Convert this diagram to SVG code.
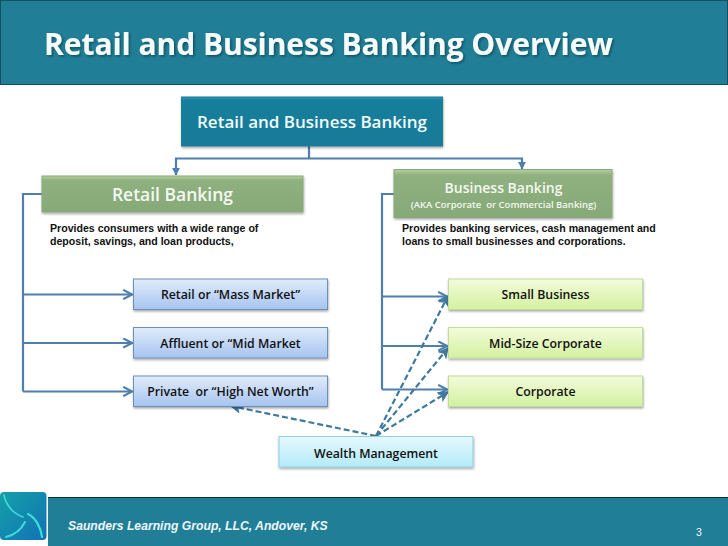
<svg xmlns="http://www.w3.org/2000/svg" width="728" height="546" viewBox="0 0 728 546">
<style>
.n{font-family:"Open Sans","Noto Sans",sans-serif;font-weight:600;text-anchor:middle;fill:#111;font-size:12.300px;white-space:pre}
.d{font-family:"Liberation Sans",Arial,sans-serif;font-weight:700;font-size:10.600px;fill:#111}
.c{fill:none;stroke:#4f7fae;stroke-width:2.200}
.a{fill:none;stroke:#3f7a9c;stroke-width:2.200;stroke-dasharray:6 3}
.box{stroke-width:1}
</style>
<defs>
<linearGradient id="gT" x1="0" y1="0" x2="0" y2="1"><stop offset="0" stop-color="#2a93ad"/><stop offset=".08" stop-color="#167f9c"/><stop offset="1" stop-color="#127a98"/></linearGradient>
<linearGradient id="gG" x1="0" y1="0" x2="0" y2="1"><stop offset="0" stop-color="#b4d09e"/><stop offset=".12" stop-color="#8fb17f"/><stop offset="1" stop-color="#86a978"/></linearGradient>
<linearGradient id="gB" x1="0" y1="0" x2="0" y2="1"><stop offset="0" stop-color="#e1ecfb"/><stop offset="1" stop-color="#a6c3f0"/></linearGradient>
<linearGradient id="gY" x1="0" y1="0" x2="0" y2="1"><stop offset="0" stop-color="#f3fbdc"/><stop offset="1" stop-color="#d3f19f"/></linearGradient>
<linearGradient id="gC" x1="0" y1="0" x2="0" y2="1"><stop offset="0" stop-color="#e6f8fd"/><stop offset="1" stop-color="#b2ebf9"/></linearGradient>
<linearGradient id="gL" x1="0" y1="0" x2="1" y2="1"><stop offset="0" stop-color="#14a0a8"/><stop offset="1" stop-color="#1272b5"/></linearGradient>
<filter id="s" x="-5%" y="-15%" width="110%" height="135%"><feDropShadow dx="0.500" dy="1.500" stdDeviation="1.200" flood-color="#000" flood-opacity=".35"/></filter>
<filter id="ts" x="-5%" y="-20%" width="110%" height="150%"><feDropShadow dx="1.500" dy="1.500" stdDeviation="0.800" flood-color="#083a4a" flood-opacity=".7"/></filter>
<marker id="h" viewBox="0 0 10 10" refX="9" refY="5" markerWidth="11" markerHeight="11" markerUnits="userSpaceOnUse" orient="auto"><path d="M1 0.800 L9 5 L1 9.200" fill="none" stroke="#4f7fae" stroke-width="2"/></marker>
<marker id="hd" viewBox="0 0 10 10" refX="9" refY="5" markerWidth="11" markerHeight="11" markerUnits="userSpaceOnUse" orient="auto"><path d="M1 0.800 L9 5 L1 9.200 L3 5Z" fill="#3f7a9c" stroke="#3f7a9c" stroke-width="1"/></marker>
<marker id="ht" viewBox="0 0 10 10" refX="9" refY="5" markerWidth="8" markerHeight="8" markerUnits="userSpaceOnUse" orient="auto"><path d="M0 0 L10 5 L0 10Z" fill="#4a7fb0"/></marker>
</defs>

<g id="header">
<rect x="0.500" y="0.500" width="727" height="84" fill="#207f96" stroke="#14505f"/>
<text x="44" y="55" font-family="'Open Sans','DejaVu Sans',sans-serif" font-weight="700" font-size="30" fill="#f4fbfc" textLength="569" lengthAdjust="spacing" filter="url(#ts)">Retail and Business Banking Overview</text>
</g>

<g id="connectors">
<path class="c" d="M309 146V158.500M176 169V158.500H522V164"/>
<path class="c" d="M176 168v7" marker-end="url(#ht)"/>
<path class="c" d="M522 162v7" marker-end="url(#ht)"/>
<path class="c" d="M42 194H23V391.500"/>
<path class="c" d="M23 294.500H132" marker-end="url(#h)"/>
<path class="c" d="M23 343H132" marker-end="url(#h)"/>
<path class="c" d="M23 391.500H132" marker-end="url(#h)"/>
<path class="c" d="M394 194H382V389.500"/>
<path class="c" d="M382 296.500H447" marker-end="url(#h)"/>
<path class="c" d="M382 346H447" marker-end="url(#h)"/>
<path class="c" d="M382 389.500H447" marker-end="url(#h)"/>
<path class="a" d="M376 436L231 406" marker-end="url(#hd)"/>
<path class="a" d="M376 436L448 296" marker-end="url(#hd)"/>
<path class="a" d="M376 436L448 348" marker-end="url(#hd)"/>
<path class="a" d="M376 436L448 392" marker-end="url(#hd)"/>
</g>

<g id="node-root">
<rect class="box" x="181.500" y="97" width="261" height="49" fill="url(#gT)" stroke="#1d7f99" filter="url(#s)"/>
<text x="312" y="128" class="n" style="font-size:17px;fill:#f4fbfc">Retail and Business Banking</text>
</g>
<g id="node-retail">
<rect class="box" x="42" y="176" width="261" height="36" fill="url(#gG)" stroke="#88aa7a" filter="url(#s)"/>
<text x="172.500" y="201" class="n" style="font-size:17.500px;fill:#f4f8f2">Retail Banking</text>
</g>
<g id="node-business">
<rect class="box" x="394" y="169.500" width="218" height="48" fill="url(#gG)" stroke="#88aa7a" filter="url(#s)"/>
<text x="503.500" y="193" class="n" style="font-size:14px;fill:#f4f8f2">Business Banking</text>
<text x="503.500" y="208" class="n" style="font-size:9.500px;fill:#f4f8f2">(AKA Corporate  or Commercial Banking)</text>
</g>
<g id="text-retail">
<text class="d" x="50" y="232">Provides consumers with a wide range of</text>
<text class="d" x="50" y="245">deposit, savings, and loan products,</text>
</g>
<g id="text-business">
<text class="d" x="402" y="232">Provides banking services, cash management and</text>
<text class="d" x="402" y="245">loans to small businesses and corporations.</text>
</g>
<g id="node-mass">
<rect class="box" x="133.500" y="279" width="194" height="30.500" fill="url(#gB)" stroke="#6a92b8" filter="url(#s)"/>
<text x="230.500" y="299" class="n">Retail or “Mass Market”</text>
</g>
<g id="node-mid">
<rect class="box" x="133.500" y="327.500" width="194" height="30.500" fill="url(#gB)" stroke="#6a92b8" filter="url(#s)"/>
<text x="230.500" y="348" class="n">Affluent or “Mid Market</text>
</g>
<g id="node-private">
<rect class="box" x="133.500" y="376" width="194" height="30.500" fill="url(#gB)" stroke="#6a92b8" filter="url(#s)"/>
<text x="230.500" y="396" class="n">Private  or “High Net Worth”</text>
</g>
<g id="node-small">
<rect class="box" x="448.500" y="279" width="194" height="30.500" fill="url(#gY)" stroke="#c2dc9a" filter="url(#s)"/>
<text x="545.500" y="299" class="n">Small Business</text>
</g>
<g id="node-midsize">
<rect class="box" x="448.500" y="327.500" width="194" height="30.500" fill="url(#gY)" stroke="#c2dc9a" filter="url(#s)"/>
<text x="545.500" y="348" class="n">Mid-Size Corporate</text>
</g>
<g id="node-corporate">
<rect class="box" x="448.500" y="376" width="194" height="30.500" fill="url(#gY)" stroke="#c2dc9a" filter="url(#s)"/>
<text x="545.500" y="396" class="n">Corporate</text>
</g>
<g id="node-wealth">
<rect class="box" x="279" y="436.500" width="194" height="30.500" fill="url(#gC)" stroke="#8fcfdf" filter="url(#s)"/>
<text x="376" y="457.500" class="n">Wealth Management</text>
</g>

<g id="footer">
<rect x="48" y="497.500" width="680" height="48.500" fill="#207f96"/>
<path d="M48 497.500H728" stroke="#0d2f38" stroke-width="1"/>
<text x="68" y="529.500" font-family="'Liberation Sans',Arial,sans-serif" font-style="italic" font-weight="700" font-size="12.200" fill="#eef6f8">Saunders Learning Group, LLC, Andover, KS</text>
<text x="696" y="536" font-family="'Liberation Sans',Arial,sans-serif" font-size="10.500" fill="#eef6f8">3</text>
</g>
<g id="logo">
<rect x="0" y="492" width="46.500" height="48" rx="4" fill="url(#gL)"/>
<path d="M4 495C6 506 14 514 23 517" fill="none" stroke="#3fdcd6" stroke-width="1.600" stroke-linecap="round"/>
<path d="M28 514C36 518 41 528 42 537" fill="none" stroke="#3fdcd6" stroke-width="2.200" stroke-linecap="round"/>
<path d="M25 522C21 530 14 535 6 537" fill="none" stroke="#3fdcd6" stroke-width="2" stroke-linecap="round"/>
</g>
</svg>
